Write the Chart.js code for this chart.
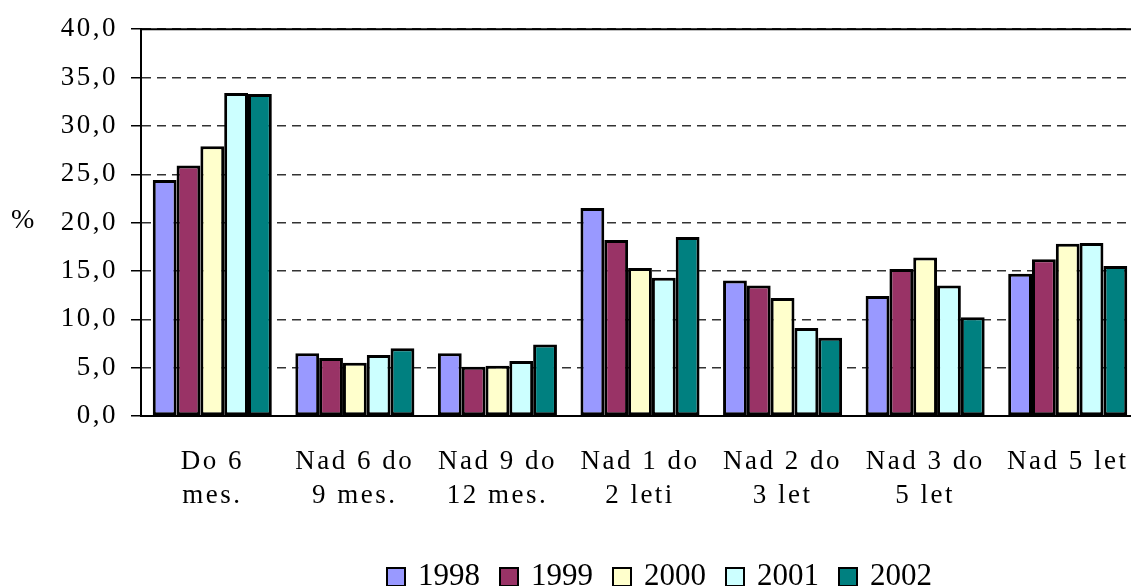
<!DOCTYPE html>
<html>
<head>
<meta charset="utf-8">
<script src="https://cdn.jsdelivr.net/npm/chart.js@4"></script>
<style>
  html, body { margin: 0; padding: 0; background: #fff; overflow: hidden; }
  #wrap { position: relative; width: 1150px; height: 586px; }
  #pct { position: absolute; left: 11px; top: 203px; font: 28px "Liberation Serif", serif; }
  #legend { position: absolute; left: 386px; top: 560px; display: flex; font: 31px/30px "Liberation Serif", serif; }
  #legend span.item { display: flex; align-items: center; margin-right: 19px; }
  #legend span.box { width: 16px; height: 16px; border: 2px solid #000; margin-right: 12px; margin-top: 4px; }
</style>
</head>
<body>
<div id="wrap">
  <canvas id="chart"></canvas>
  <div id="pct">%</div>
  <div id="legend"></div>
</div>
<script>
const categories = [
  ["Do 6", "mes."],
  ["Nad 6 do", "9 mes."],
  ["Nad 9 do", "12 mes."],
  ["Nad 1 do", "2 leti"],
  ["Nad 2 do", "3 let"],
  ["Nad 3 do", "5 let"],
  ["Nad 5 let"]
];

const years = ["1998", "1999", "2000", "2001", "2002"];

const v1998 = [24.4, 6.5, 6.5, 21.5, 14.0, 12.4, 14.7];
const v1999 = [25.9, 6.0, 5.1, 18.2, 13.5, 15.2, 16.2];
const v2000 = [27.9, 5.5, 5.2, 15.3, 12.2, 16.4, 17.8];
const v2001 = [33.4, 6.3, 5.7, 14.3, 9.1, 13.5, 17.9];
const v2002 = [33.3, 7.0, 7.4, 18.5, 8.1, 10.2, 15.5];

const colors = ["#9999FF", "#993366", "#FFFFCC", "#CCFFFF", "#008080"];

const series = [v1998, v1999, v2000, v2001, v2002];

const datasets = years.map((y, i) => ({
  label: y,
  data: series[i],
  backgroundColor: colors[i],
  borderColor: "#000",
  borderWidth: 3,
  borderSkipped: false,
}));

// letter spaced text + solid top frame line
const framePlugin = {
  id: "frame",
  beforeDraw(chart) {
    chart.ctx.letterSpacing = "2.5px";
  },
  afterDraw(chart) {
    const {ctx, chartArea} = chart;
    ctx.save();
    ctx.strokeStyle = "#000";
    ctx.lineWidth = 2;
    ctx.beginPath();
    ctx.moveTo(chartArea.left, chartArea.top);
    ctx.lineTo(chartArea.right, chartArea.top);
    ctx.stroke();
    ctx.restore();
    ctx.letterSpacing = "0px";
  },
};

const config = {
  type: "bar",
  data: {labels: categories, datasets},
  options: {
    responsive: false,
    animation: false,
    devicePixelRatio: 1,
    layout: {padding: {top: 27, right: 11, left: 0, bottom: 0}},
    plugins: {legend: {display: false}, tooltip: {enabled: false}},
    datasets: {bar: {categoryPercentage: 0.835, barPercentage: 1}},
    scales: {
      x: {
        grid: {display: false, drawTicks: false},
        border: {display: true, color: "#000", width: 2},
        ticks: {
          color: "#000",
          padding: 29,
          maxRotation: 0,
          autoSkip: false,
          font: {family: "Liberation Serif", size: 27, lineHeight: 1.26},
        },
        afterFit(scale) { scale.height = 170; },
      },
      y: {
        min: 0,
        max: 40,
        ticks: {
          stepSize: 5,
          color: "#000",
          padding: 13,
          font: {family: "Liberation Serif", size: 27},
          callback: (v) => v.toFixed(1).replace(".", ","),
        },
        grid: {color: "#333", lineWidth: 1.5, tickColor: "#000", tickLength: 10, tickWidth: 1.5},
        border: {display: true, color: "#000", width: 2, dash: [9, 6]},
        afterFit(scale) { scale.width = 141; },
      },
    },
  },
  plugins: [framePlugin],
};

const legend = document.getElementById("legend");
years.forEach((y, i) => {
  const item = document.createElement("span");
  item.className = "item";
  const box = document.createElement("span");
  box.className = "box";
  box.style.background = colors[i];
  item.appendChild(box);
  item.appendChild(document.createTextNode(y));
  legend.appendChild(item);
});

const canvas = document.getElementById("chart");
canvas.width = 1150;
canvas.height = 586;
window.chart = new Chart(canvas.getContext("2d"), config);
</script>
</body>
</html>
